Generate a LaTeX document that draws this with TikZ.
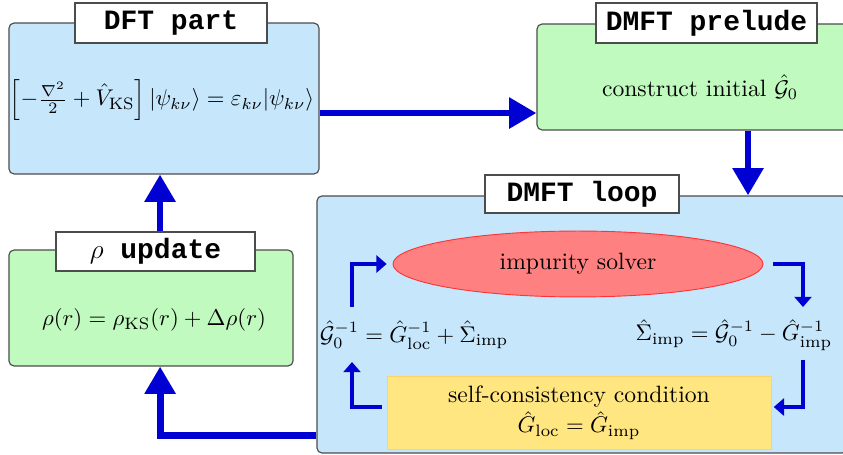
\documentclass[tikz,border=0pt]{standalone}
\usepackage{amsmath}
\usepackage{fontspec}
\newfontfamily\titlefont{Liberation Mono}
\usepackage{tikz}
\usetikzlibrary{positioning}
\usetikzlibrary{calc,arrows.meta,shapes.geometric}
\definecolor{boxblue}{RGB}{198,230,252}
\definecolor{boxgreen}{RGB}{192,250,190}
\definecolor{solvered}{RGB}{255,128,128}
\definecolor{sccyellow}{RGB}{255,230,128}
\definecolor{arrowblue}{RGB}{0,0,210}

\begin{document}
\begin{tikzpicture}[x=0.44pt,y=-0.44pt,font=\fontsize{10.4}{12.5}\selectfont,
panel/.style={draw=black!70,rounded corners=2.2pt,line width=0.5pt},
tag/.style={draw=black!70,fill=white,line width=0.5pt,inner sep=0pt,font=\titlefont\bfseries\fontsize{12.3}{14}\selectfont},
eqn/.style={inner sep=1pt},
big/.style={arrowblue,line width=3pt,-{Triangle[width=13pt,length=12pt]}},
small/.style={arrowblue,line width=1.4pt,-{Triangle[width=7.5pt,length=4.5pt]}}]
\useasboundingbox (0,0) rectangle (843,455);
\clip (0,0) rectangle (843,455);
\path
(164,98.5) node [panel,fill=boxblue,minimum width=136.4pt,minimum height=66.4pt](dft) {}
(706,77) node [panel,fill=boxgreen,minimum width=148.7pt,minimum height=46.6pt](pre) {}
(582,324.5) node [panel,fill=boxblue,minimum width=233.2pt,minimum height=113.1pt](loop) {}
(151,308) node [panel,fill=boxgreen,minimum width=125pt,minimum height=51pt](rho) {};
\path
(171,23) node [tag,minimum width=84.5pt,minimum height=17.6pt](dftt) {DFT part}
(706.5,23) node [tag,minimum width=97.2pt,minimum height=17.6pt](pret) {DMFT prelude}
(582,194) node [tag,minimum width=85.4pt,minimum height=16.7pt](loopt) {DMFT loop}
(155.5,251.5) node [tag,minimum width=87.6pt,minimum height=17.2pt](rhot) {$\rho$ update};
\path
(162,100) node [eqn](dfteq) {$\left[-\frac{\nabla^2}{2}+\hat V_{\mathrm{KS}}\right]|\psi_{k\nu}\rangle=\varepsilon_{k\nu}|\psi_{k\nu}\rangle$}
(700,87) node (pretxt) {construct initial $\hat{\mathcal G}_0$}
(154,320) node [eqn](rhoeq) {$\rho(r)=\rho_{\mathrm{KS}}(r)+\Delta\rho(r)$}
(578,264) node [ellipse,draw=red!80,fill=solvered,minimum width=162.8pt,minimum height=29pt,inner sep=0pt](sol) {impurity solver}
(579,412.5) node [draw=sccyellow!80!orange,fill=sccyellow,minimum width=169pt,minimum height=32.1pt,align=center,inner sep=0pt](scc) {self-consistency condition\\[1pt] $\hat G_{\mathrm{loc}}=\hat G_{\mathrm{imp}}$}
(414,335) node [eqn](geq) {$\hat{\mathcal G}_0^{-1}=\hat G_{\mathrm{loc}}^{-1}+\hat\Sigma_{\mathrm{imp}}$}
(734,335) node [eqn](seq) {$\hat\Sigma_{\mathrm{imp}}=\hat{\mathcal G}_0^{-1}-\hat G_{\mathrm{imp}}^{-1}$};
\coordinate (gtop) at (352,307);
\coordinate (gbot) at (352,362);
\coordinate (stop) at (803,307);
\coordinate (sbot) at (803,360);
\draw [big]([yshift=-6.4pt]dft.east) --([yshift=-6.4pt]dft.east -| pre.west);
\draw [big]([xshift=18.5pt]pre.south) --([xshift=18.5pt]pre.south |- loop.north);
\draw [big]([yshift=7.9pt]loop.south west) -|([xshift=4pt]rho.south);
\draw [big]([xshift=2pt]rhot.north) --([xshift=2pt]rhot.north |- dft.south);
\draw [small,shorten >=2.6pt](gtop) |-(sol.west);
\draw [small,shorten <=4.4pt](sol.east) -|(stop);
\draw [small,shorten >=1pt](sbot) |-([yshift=2.4pt]scc.east);
\draw [small,shorten <=2pt]([yshift=2.4pt]scc.west) -|(gbot);
\end{tikzpicture}
\end{document}
